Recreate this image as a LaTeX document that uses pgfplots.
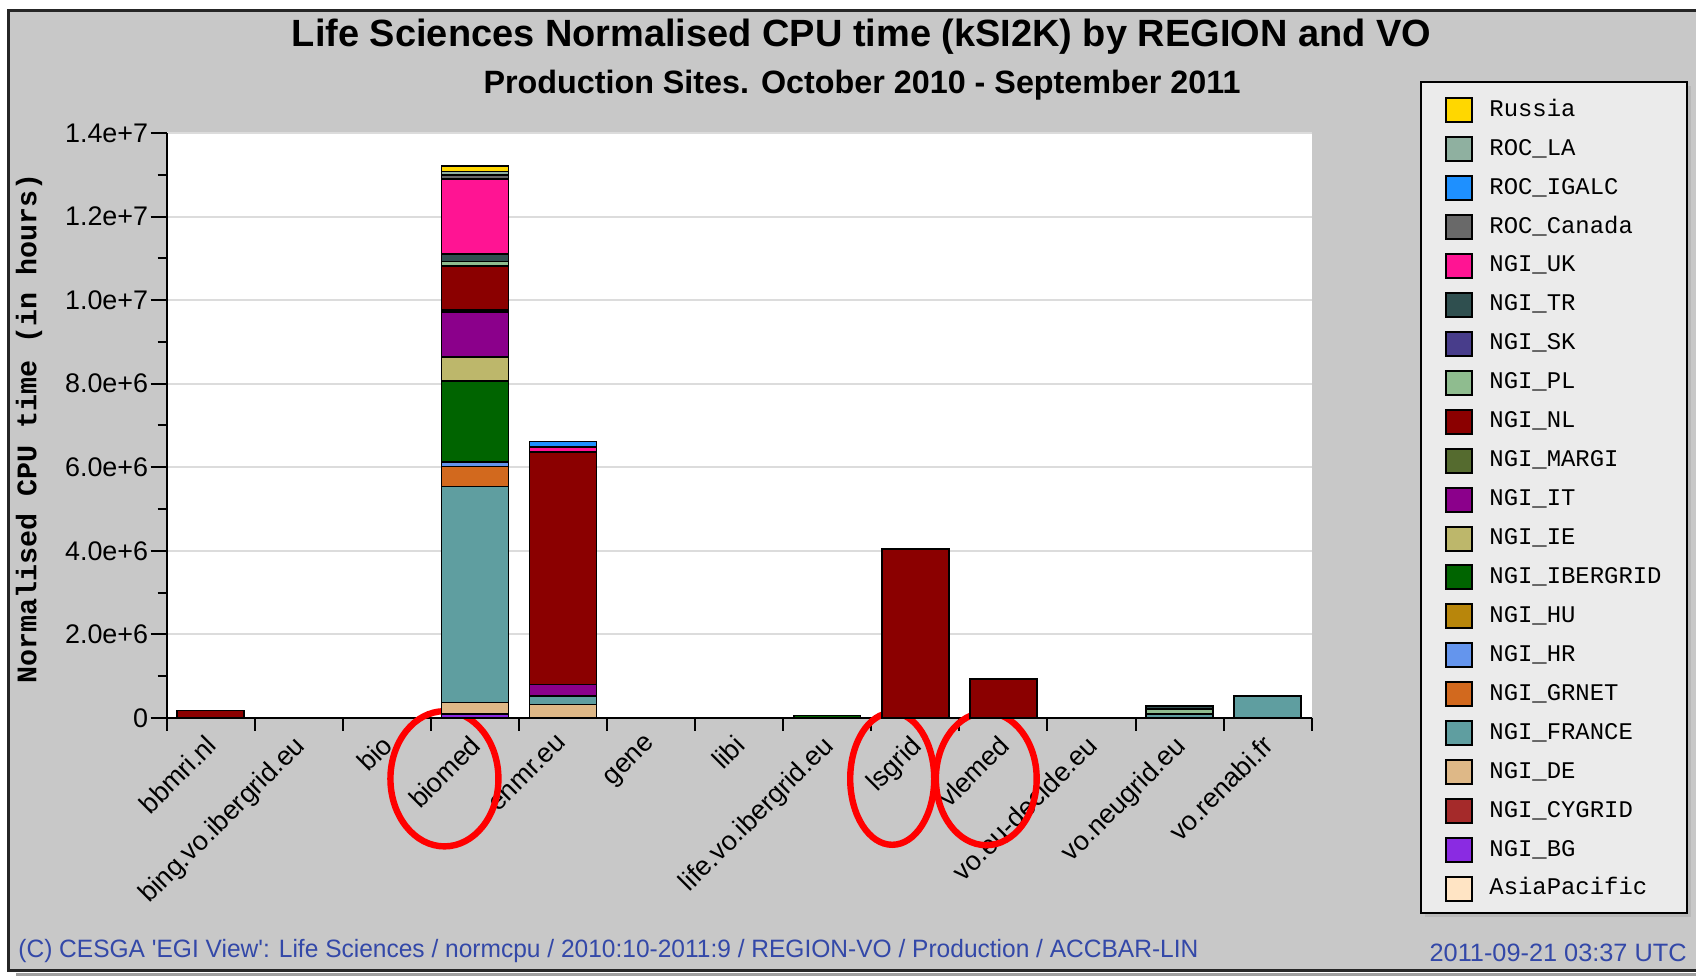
\documentclass[border=0pt]{standalone}
\usepackage{pgfplots}
\pgfplotsset{compat=1.18}
\usepackage{pgfplotstable}
\usepackage{graphicx}
\usepackage{fontspec}
\setmainfont{Liberation Sans}
\newfontfamily\monofont{Liberation Mono}

\definecolor{cRU}{HTML}{FFD700}
\definecolor{cLA}{HTML}{8FB0A0}
\definecolor{cIG}{HTML}{1E90FF}
\definecolor{cCA}{HTML}{696969}
\definecolor{cUK}{HTML}{FF1493}
\definecolor{cTR}{HTML}{2F4F4F}
\definecolor{cSK}{HTML}{483D8B}
\definecolor{cPL}{HTML}{8FBC8F}
\definecolor{cNL}{HTML}{8B0000}
\definecolor{cMA}{HTML}{556B2F}
\definecolor{cIT}{HTML}{8B008B}
\definecolor{cIE}{HTML}{BDB76B}
\definecolor{cIB}{HTML}{006400}
\definecolor{cHU}{HTML}{B8860B}
\definecolor{cHR}{HTML}{6495ED}
\definecolor{cGR}{HTML}{D2691E}
\definecolor{cFR}{HTML}{5F9EA0}
\definecolor{cDE}{HTML}{DEB887}
\definecolor{cCY}{HTML}{A52A2A}
\definecolor{cBG}{HTML}{8A2BE2}
\definecolor{cAP}{HTML}{FFE4C4}
\definecolor{bggray}{HTML}{C8C8C8}
\definecolor{leggray}{HTML}{EBEBEB}
\definecolor{footblue}{HTML}{3348A8}
\definecolor{gridgray}{HTML}{DCDCDC}

\pgfplotstableread{
idx AP BG CY DE FR GR HR HU IB IE IT MA NL PL SK TR UK CA IG LA RU
0 0 0 0 0 0 0 0 0 0 0 0 0 180000 0 0 0 0 0 0 0 0
1 0 0 0 0 0 0 0 0 0 0 0 0 0 0 0 0 0 0 0 0 0
2 0 0 0 0 0 0 0 0 0 0 0 0 0 0 0 0 0 0 0 0 0
3 0 90000 0 280000 5170000 480000 110000 0 1930000 580000 1070000 60000 1040000 110000 0 180000 1800000 90000 0 90000 130000
4 0 0 0 320000 200000 0 0 0 0 0 280000 0 5560000 0 0 0 120000 0 140000 0 0
5 0 0 0 0 0 0 0 0 0 0 0 0 0 0 0 0 0 0 0 0 0
6 0 0 0 0 0 0 0 0 0 0 0 0 0 0 0 0 0 0 0 0 0
7 0 0 0 0 0 0 0 0 60000 0 0 0 0 0 0 0 0 0 0 0 0
8 0 0 0 0 0 0 0 0 0 0 0 0 4040000 0 0 0 0 0 0 0 0
9 0 0 0 0 0 0 0 0 0 0 0 0 930000 0 0 0 0 0 0 0 0
10 0 0 0 0 0 0 0 0 0 0 0 0 0 0 0 0 0 0 0 0 0
11 0 0 0 0 100000 0 0 0 0 0 0 0 0 110000 0 80000 0 0 0 0 0
12 0 0 0 0 530000 0 0 0 0 0 0 0 0 0 0 0 0 0 0 0 0
}\datatable

\newcommand{\bars}[3]{%
  \addplot[fill=#2, draw=black, line width=0.8bp,
    legend image code/.code={\draw[fill=#2, draw=black, line width=1bp] (0bp,-6bp) rectangle (13bp,6bp);}]
    table[x=idx, y=#1] {\datatable};
  \addlegendentry{#3}}

\begin{document}
\begin{tikzpicture}
% background and frame
\fill[white] (0,0) rectangle (848bp,488.5bp);
\fill[bggray] (4bp,3bp) rectangle (848bp,483bp);
\draw[gray!75, line width=1.2bp] (8bp,1.2bp) -- (848bp,1.2bp);
\draw[black!85, line width=1.5bp] (848bp,483bp) -- (4bp,483bp) -- (4bp,3bp) -- (848bp,3bp);
% legend box
\fill[gray!55] (712.5bp,30bp) rectangle (845.3bp,445.6bp);
\filldraw[fill=leggray, draw=black, line width=1bp] (710.5bp,32bp) rectangle (843.3bp,447.6bp);

\begin{axis}[
  at={(83.25bp,129.5bp)}, anchor=south west,
  width=572.6bp, height=292.5bp, scale only axis,
  ybar stacked, bar width=0.76,
  xmin=-0.5, xmax=12.5, ymin=0, ymax=1.4e7,
  axis background/.style={fill=white},
  axis lines*=left,
  axis line style={line width=1bp, black},
  clip=false,
  tick align=outside,
  major tick length=8bp,
  minor tick length=6.5bp,
  xtick={0,...,12},
  major x tick style={draw=none},
  minor xtick={-0.5,0.5,...,12.5},
  minor x tick style={line width=1bp, black},
  xticklabels={bbmri.nl, bing.vo.ibergrid.eu, bio, biomed, enmr.eu, gene, libi, life.vo.ibergrid.eu, lsgrid, vlemed, vo.eu-decide.eu, vo.neugrid.eu, vo.renabi.fr},
  xticklabel style={rotate=45, anchor=north east, inner sep=0pt, xshift=-1.9bp, yshift=2.5bp, font=\fontsize{13.5}{15}\selectfont},
  ytick={0,2e6,4e6,6e6,8e6,1e7,1.2e7,1.4e7},
  yticklabels={0,2.0e+6,4.0e+6,6.0e+6,8.0e+6,1.0e+7,1.2e+7,1.4e+7},
  yticklabel style={inner sep=1bp, font=\fontsize{13.5}{15}\selectfont},
  minor y tick num=1,
  major y tick style={line width=1bp, black},
  minor y tick style={line width=1bp, black, /pgfplots/minor tick length=4.5bp},
  ymajorgrids,
  major grid style={line width=1bp, gridgray},
  scaled y ticks=false,
  reverse legend,
  legend cell align=left,
  legend style={at={(axis description cs:1.1164,1.0612)}, anchor=north west,
    draw=none, fill=none, inner sep=0pt, outer sep=0pt,
    row sep=6.47bp, column sep=8.2bp,
    font=\monofont\fontsize{12}{14}\selectfont,
    nodes={inner sep=0pt, text height=9bp, text depth=3bp}},
]
\bars{AP}{cAP}{AsiaPacific}
\bars{BG}{cBG}{NGI\_BG}
\bars{CY}{cCY}{NGI\_CYGRID}
\bars{DE}{cDE}{NGI\_DE}
\bars{FR}{cFR}{NGI\_FRANCE}
\bars{GR}{cGR}{NGI\_GRNET}
\bars{HR}{cHR}{NGI\_HR}
\bars{HU}{cHU}{NGI\_HU}
\bars{IB}{cIB}{NGI\_IBERGRID}
\bars{IE}{cIE}{NGI\_IE}
\bars{IT}{cIT}{NGI\_IT}
\bars{MA}{cMA}{NGI\_MARGI}
\bars{NL}{cNL}{NGI\_NL}
\bars{PL}{cPL}{NGI\_PL}
\bars{SK}{cSK}{NGI\_SK}
\bars{TR}{cTR}{NGI\_TR}
\bars{UK}{cUK}{NGI\_UK}
\bars{CA}{cCA}{ROC\_Canada}
\bars{IG}{cIG}{ROC\_IGALC}
\bars{LA}{cLA}{ROC\_LA}
\bars{RU}{cRU}{Russia}
\draw[red, line width=3.2bp] (axis cs:2.655,-1.455e6) ellipse [x radius=27bp, y radius=33.8bp];
\draw[red, line width=3.2bp] (axis cs:7.738,-1.455e6) ellipse [x radius=21bp, y radius=33bp];
\draw[red, line width=3.2bp] (axis cs:8.806,-1.455e6) ellipse [x radius=25.2bp, y radius=33.2bp];
\end{axis}

% titles
\node[inner sep=0pt] at (430.75bp,470.2bp) {\resizebox{569.5bp}{!}{\bfseries Life Sciences Normalised CPU time (kSI2K) by REGION and VO}};
\node[inner sep=0pt] at (431bp,445.8bp) {\resizebox{378.5bp}{!}{\bfseries Production Sites. October 2010 - September 2011}};
% y label
\node[inner sep=0pt, rotate=90] at (14.5bp,274.3bp) {\resizebox{255bp}{!}{\monofont\bfseries Normalised CPU time (in hours)}};
% footer
\node[inner sep=0pt, anchor=west, text=footblue] at (9bp,13.2bp) {\resizebox{590bp}{\height}{\fontsize{12.6}{14}\selectfont (C) CESGA \textquotesingle EGI View\textquotesingle: Life Sciences / normcpu / 2010:10-2011:9 / REGION-VO / Production / ACCBAR-LIN}};
\node[inner sep=0pt, anchor=east, text=footblue] at (843.5bp,12bp) {\resizebox{128.5bp}{\height}{\fontsize{12.6}{14}\selectfont 2011-09-21 03:37 UTC}};

\pgfresetboundingbox
\path[use as bounding box] (0,0) rectangle (848bp,488.5bp);
\end{tikzpicture}
\end{document}
